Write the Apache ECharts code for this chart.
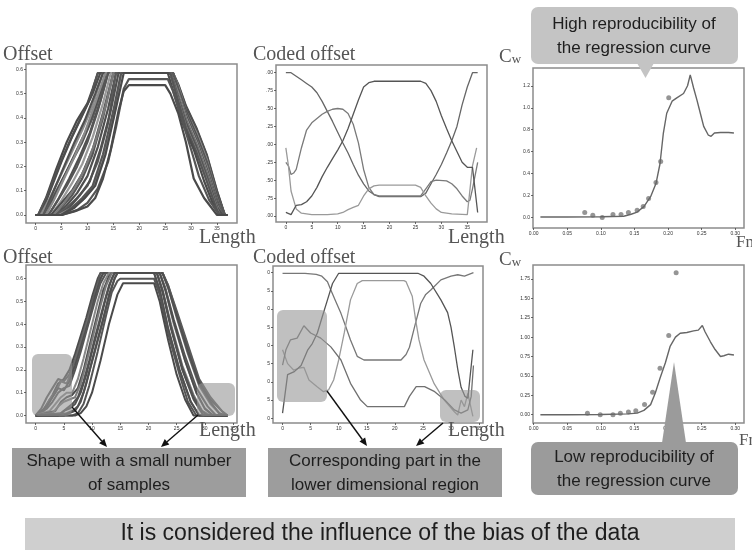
<!DOCTYPE html>
<html>
<head>
<meta charset="utf-8">
<script src="https://cdn.jsdelivr.net/npm/echarts@6/dist/echarts.min.js"></script>
<style>
  html, body { margin: 0; padding: 0; background: #fff; }
  #main { width: 752px; height: 552px; }
</style>
</head>
<body>
<div id="main"></div>
<script>
// ---- data ----

// top-left: offset shapes (all samples)
const offsetTop = [
  [[0,0],[0.5,0],[2,0.07],[4,0.19],[6,0.3],[8,0.39],[10,0.46],[11,0.52],[12,0.585],[26.5,0.585],[27.5,0.54],[29,0.45],[31,0.36],[33,0.25],[35,0.1],[36.5,0],[37,0]],
  [[0,0],[0.5,0],[2.5,0.09],[4.5,0.2],[6.5,0.3],[8.5,0.39],[10.5,0.48],[12,0.585],[26.5,0.585],[27.5,0.535],[29,0.445],[31,0.355],[33,0.245],[35,0.095],[36.5,0],[37,0]],
  [[0,0],[1,0],[3,0.11],[5,0.22],[7,0.32],[9,0.41],[11,0.5],[12.5,0.585],[26.5,0.585],[27.5,0.53],[29,0.44],[31,0.35],[33,0.24],[35,0.09],[36.5,0],[37,0]],
  [[0,0],[1,0],[3,0.08],[5,0.17],[7,0.26],[9,0.35],[11,0.45],[13,0.585],[26.5,0.585],[27.5,0.53],[29,0.43],[31,0.34],[33,0.23],[35,0.08],[36.5,0],[37,0]],
  [[0,0],[1.5,0],[3.5,0.1],[5.5,0.2],[7.5,0.3],[9.5,0.39],[11.5,0.5],[13,0.585],[26.5,0.585],[27.5,0.52],[29,0.43],[31,0.33],[33,0.22],[35,0.08],[36.5,0],[37,0]],
  [[0,0],[1.5,0],[3,0.06],[5,0.14],[7,0.22],[9,0.3],[11,0.4],[13,0.53],[13.5,0.585],[26.5,0.585],[27.5,0.52],[29,0.425],[31,0.325],[33,0.215],[35,0.075],[36.5,0],[37,0]],
  [[0,0],[2,0],[4,0.09],[6,0.18],[8,0.27],[10,0.36],[12,0.48],[13.5,0.585],[26,0.585],[27.5,0.51],[29,0.42],[31,0.32],[33,0.2],[35,0.07],[36,0],[37,0]],
  [[0,0],[2,0],[3.5,0.06],[5.5,0.15],[7.5,0.24],[9.5,0.34],[11.5,0.46],[13.5,0.585],[26,0.585],[27.5,0.505],[29,0.415],[31,0.315],[33,0.2],[35,0.065],[36,0],[37,0]],
  [[0,0],[2.5,0],[4.5,0.07],[6.5,0.15],[8.5,0.24],[10.5,0.34],[12.5,0.47],[14,0.585],[26,0.585],[27.5,0.5],[29,0.41],[31,0.31],[33,0.19],[35,0.06],[36,0],[37,0]],
  [[0,0],[2.5,0],[4,0.05],[6,0.12],[8,0.2],[10,0.3],[12,0.43],[14,0.585],[26,0.585],[27.5,0.5],[29,0.405],[31,0.305],[33,0.185],[35,0.055],[36,0],[37,0]],
  [[0,0],[3,0],[5,0.06],[7,0.13],[9,0.21],[11,0.32],[13,0.46],[14.5,0.585],[26,0.585],[27.5,0.5],[29,0.4],[31,0.3],[33,0.18],[35,0.05],[36,0],[37,0]],
  [[0,0],[3,0],[5,0.05],[7,0.1],[9,0.17],[11,0.27],[13,0.42],[15,0.585],[26,0.585],[27.5,0.49],[29,0.39],[31,0.29],[33,0.17],[35,0.05],[36,0],[37,0]],
  [[0,0],[3.5,0],[5,0.03],[7,0.08],[9,0.15],[11,0.25],[13,0.4],[15,0.585],[26,0.585],[27.5,0.49],[29,0.39],[31,0.29],[33,0.17],[35,0.045],[36,0],[37,0]],
  [[0,0],[3.5,0],[5.5,0.05],[7.5,0.11],[9.5,0.19],[11.5,0.3],[13.5,0.45],[15,0.585],[26,0.585],[27.5,0.49],[29,0.39],[31,0.29],[33,0.17],[35,0.04],[36,0],[37,0]],
  [[0,0],[4,0],[6,0.04],[8,0.09],[10,0.16],[12,0.28],[14,0.44],[15.5,0.585],[26,0.585],[27.5,0.48],[29,0.38],[31,0.28],[33,0.16],[35,0.03],[36,0],[37,0]],
  [[0,0],[4,0],[6,0.03],[8,0.07],[10,0.12],[12,0.22],[14,0.38],[15.5,0.585],[26,0.585],[27.5,0.48],[29,0.375],[31,0.275],[33,0.155],[35,0.03],[36,0],[37,0]],
  [[0,0],[4.5,0],[6.5,0.03],[8.5,0.08],[10.5,0.14],[12.5,0.27],[14.5,0.43],[16,0.585],[26,0.585],[27.5,0.48],[29,0.37],[31,0.27],[33,0.15],[35,0.03],[36,0],[37,0]],
  [[0,0],[4.5,0],[7,0.03],[9,0.06],[11,0.11],[13,0.22],[15,0.4],[16.5,0.585],[26,0.585],[27.5,0.475],[29,0.365],[31,0.265],[33,0.145],[35,0.025],[35.5,0],[37,0]],
  [[0,0],[5,0],[7,0.03],[9,0.07],[11,0.12],[13,0.25],[15,0.43],[16.5,0.585],[26,0.585],[27.5,0.47],[29,0.36],[31,0.26],[33,0.14],[35,0.02],[35.5,0],[37,0]],
  [[0,0],[5,0],[7.5,0.03],[9.5,0.07],[11.5,0.12],[13.5,0.25],[15.5,0.44],[17,0.585],[25.5,0.585],[27,0.48],[28.5,0.37],[30.5,0.27],[32.5,0.14],[34.5,0.03],[35.5,0],[37,0]],
  [[0,0],[5,0],[8,0.02],[10,0.05],[12,0.11],[14,0.22],[15.5,0.36],[17,0.52],[18,0.56],[25.5,0.56],[26.5,0.51],[28,0.41],[30,0.27],[31.5,0.16],[33.5,0.06],[35.5,0],[37,0]],
  [[0,0],[5,0],[7.5,0.015],[10,0.035],[11.5,0.07],[13,0.15],[14.5,0.27],[16,0.43],[17,0.51],[18,0.535],[25,0.535],[26,0.5],[27.5,0.42],[29,0.3],[30.5,0.15],[32.5,0.07],[35,0],[37,0]]
];

// top-middle: coded offset (4 components)
const codedTop = [
  [[0,1],[1,1],[2,0.95],[3,0.9],[4,0.85],[5,0.8],[6,0.72],[7,0.6],[8,0.46],[9,0.32],[10,0.17],[11,0.02],[12,-0.12],[13,-0.28],[14,-0.43],[15,-0.55],[16,-0.65],[17,-0.7],[18,-0.73],[26,-0.73],[27,-0.68],[28,-0.55],[29,-0.42],[30,-0.28],[31,-0.12],[32,0.05],[33,0.25],[34,0.55],[35,0.8],[36,1],[37,1]],
  [[0,-0.25],[0.5,-0.3],[1,-0.42],[1.5,-0.4],[2,-0.35],[3,-0.05],[4,0.2],[5,0.3],[6,0.36],[7,0.42],[8,0.46],[9,0.49],[10,0.5],[11,0.49],[12,0.43],[13,0.28],[14,0.02],[15,-0.35],[16,-0.6],[17,-0.7],[18,-0.72],[26,-0.72],[27,-0.62],[28,-0.52],[29,-0.5],[31,-0.51],[32,-0.55],[33,-0.62],[34,-0.72],[35,-0.8],[35.5,-0.78],[36,-0.62],[37,-0.25]],
  [[0,-0.05],[0.5,-0.3],[1,-0.65],[2,-0.9],[3,-0.96],[5,-0.98],[8,-0.98],[10,-0.97],[11,-0.95],[12,-0.91],[13,-0.88],[14,-0.85],[15,-0.72],[16,-0.62],[17,-0.58],[18,-0.57],[25,-0.57],[26,-0.6],[27,-0.72],[28,-0.82],[29,-0.9],[30,-0.95],[32,-0.97],[35,-0.98],[36,-0.3],[36.8,-0.05]],
  [[0,-0.95],[1,-0.98],[2,-0.85],[3,-0.84],[4,-0.8],[5,-0.72],[6,-0.6],[7,-0.45],[8,-0.32],[9,-0.2],[10,-0.08],[11,0.05],[12,0.22],[13,0.42],[14,0.62],[15,0.8],[16,0.86],[17,0.88],[26,0.88],[27,0.85],[28,0.75],[29,0.6],[30,0.4],[31,0.22],[32,0.05],[33,-0.1],[34,-0.25],[35,-0.32],[36,-0.32],[37,-0.95]]
];

// top-right: measured Cw and regression curve
const fnTop = [0.076, 0.088, 0.102, 0.118, 0.130, 0.141, 0.154, 0.163, 0.171, 0.182, 0.189, 0.201];
const cwTop = [0.046, 0.02, 0.0, 0.027, 0.027, 0.046, 0.067, 0.10, 0.174, 0.32, 0.51, 1.09];
const fnCurveTop = [0.01, 0.05, 0.10, 0.134, 0.145, 0.154, 0.164, 0.174, 0.182, 0.188, 0.193, 0.198, 0.206, 0.213, 0.223, 0.229, 0.233, 0.238, 0.243, 0.248, 0.253, 0.26, 0.264, 0.269, 0.278, 0.29, 0.298];
const cwCurveTop = [0.005, 0.005, 0.008, 0.012, 0.03, 0.05, 0.1, 0.19, 0.31, 0.49, 0.77, 0.95, 1.06, 1.09, 1.13, 1.2, 1.30, 1.18, 1.07, 0.95, 0.83, 0.75, 0.74, 0.77, 0.775, 0.775, 0.77];

// bottom-left: offset shapes (biased samples)
const offsetBottom = [
  [[0,0],[1,0.01],[2,0.05],[3,0.09],[4,0.14],[5,0.16],[6,0.2],[7,0.27],[8,0.35],[9,0.43],[10,0.52],[11,0.6],[11.5,0.625],[22.5,0.625],[23.5,0.57],[25,0.45],[27,0.3],[29,0.15],[31,0.07],[33,0.02],[34,0]],
  [[0,0],[1,0.03],[2,0.08],[3,0.12],[4,0.16],[5,0.15],[6,0.18],[7,0.25],[8,0.33],[9,0.41],[10,0.5],[11,0.58],[11.5,0.625],[22.5,0.625],[23.5,0.57],[25,0.46],[27,0.31],[29,0.16],[31,0.08],[33,0.02],[34,0]],
  [[0,0],[1.5,0.02],[2.5,0.07],[3.5,0.1],[4.5,0.15],[5.5,0.14],[6.5,0.2],[7.5,0.28],[8.5,0.36],[10,0.48],[11,0.57],[12,0.625],[22.5,0.625],[23.5,0.56],[25,0.43],[27,0.27],[29,0.13],[31,0.05],[33,0],[34,0]],
  [[0,0],[1,0.02],[2,0.04],[3,0.08],[4,0.12],[5,0.11],[6,0.15],[7,0.22],[8,0.3],[9.5,0.42],[10.5,0.52],[11.5,0.6],[12,0.625],[22.5,0.625],[23.5,0.56],[25,0.44],[27,0.28],[29,0.14],[31,0.06],[32.5,0.01],[34,0]],
  [[0,0],[2,0.03],[3,0.06],[4,0.1],[5,0.12],[6,0.13],[7,0.2],[8,0.28],[9,0.37],[10.5,0.5],[11.5,0.58],[12.5,0.625],[22,0.625],[23,0.56],[24.5,0.42],[26.5,0.26],[28.5,0.12],[30.5,0.04],[32,0],[34,0]],
  [[0,0],[2.5,0.02],[3.5,0.05],[4.5,0.08],[5.5,0.1],[6.5,0.1],[7.5,0.16],[8.5,0.25],[9.5,0.35],[11,0.5],[12,0.58],[13,0.625],[22,0.625],[23,0.55],[24.5,0.4],[26.5,0.24],[28.5,0.1],[30,0.03],[31.5,0],[34,0]],
  [[0,0],[3.5,0.02],[4.5,0.06],[5.5,0.08],[6.5,0.09],[7.5,0.12],[8.5,0.2],[9.5,0.3],[11,0.45],[12,0.55],[13,0.61],[13.5,0.625],[22,0.625],[23,0.55],[24.5,0.41],[26.5,0.24],[28.5,0.1],[30,0.03],[31.5,0],[34,0]],
  [[0,0],[3,0.01],[4,0.04],[5,0.06],[6,0.07],[7,0.08],[8,0.14],[9,0.23],[10,0.33],[11.5,0.48],[12.5,0.57],[13.5,0.625],[21.5,0.625],[22.5,0.55],[24,0.4],[26,0.22],[28,0.09],[29.5,0.02],[31,0],[34,0]],
  [[0,0],[4.5,0.01],[5.5,0.03],[6.5,0.05],[7.5,0.08],[8.5,0.15],[9.5,0.24],[10.5,0.34],[12,0.48],[13,0.57],[14,0.625],[21.5,0.625],[22.5,0.55],[24,0.39],[26,0.21],[28,0.08],[29.5,0.02],[30.5,0],[34,0]],
  [[0,0],[4,0],[5,0.02],[6,0.03],[7,0.05],[8,0.1],[9,0.18],[10,0.28],[11.5,0.42],[12.5,0.52],[13.5,0.6],[14,0.625],[21.5,0.625],[22.5,0.54],[24,0.38],[26,0.2],[28,0.07],[29.5,0.01],[30,0],[34,0]],
  [[0,0],[5.5,0.01],[6.5,0.02],[7.5,0.04],[8.5,0.1],[9.5,0.19],[10.5,0.28],[12,0.42],[13,0.53],[14,0.6],[14.5,0.625],[21,0.625],[22,0.55],[23.5,0.38],[25.5,0.2],[27.5,0.06],[29,0],[34,0]],
  [[0,0],[5,0],[6,0.01],[7,0.02],[8,0.06],[9,0.14],[10,0.24],[11.5,0.38],[13,0.52],[14,0.6],[14.5,0.625],[21,0.625],[22,0.55],[23.5,0.38],[25.5,0.2],[27.5,0.06],[29,0],[34,0]],
  [[0,0],[6.5,0],[7.5,0.01],[8.5,0.05],[9.5,0.13],[11,0.28],[12.5,0.44],[13.5,0.54],[14.5,0.59],[15,0.6],[21,0.6],[22,0.53],[23.5,0.36],[25.5,0.18],[27,0.06],[28.5,0],[34,0]],
  [[0,0],[7,0],[8,0.01],[9,0.04],[10,0.1],[11.5,0.24],[13,0.4],[14.5,0.53],[15.5,0.58],[21,0.58],[22,0.5],[23.5,0.33],[25,0.18],[26.5,0.07],[28,0],[34,0]]
];

// bottom-middle: coded offset (4 components)
const codedBottom = [
  [[0,0.99],[2,0.99],[4,0.99],[6,0.975],[7,0.95],[8,0.875],[8.6,0.76],[9.5,0.6],[10.4,0.44],[11.3,0.25],[12.1,0.075],[13.3,-0.15],[14.5,-0.2],[21.1,-0.2],[22,-0.125],[22.6,-0.025],[23.5,0.25],[24.6,0.575],[25.5,0.7],[26.4,0.76],[28.2,0.9],[30,0.95],[31.2,0.97],[32.4,0.95],[34,1.0]],
  [[0,-0.06],[0.9,-0.25],[2,-0.34],[3,-0.31],[3.8,-0.3],[4.7,-0.475],[6.1,-0.565],[7.3,-0.635],[8.2,-0.61],[9.1,-0.475],[10,-0.2],[11,0.175],[12.1,0.625],[13.3,0.85],[14.2,0.89],[21.6,0.89],[22,0.875],[23.1,0.675],[23.7,0.35],[24.3,0.075],[25.2,-0.2],[27,-0.525],[28.8,-0.75],[30.6,-0.91],[31.2,-0.955],[31.8,-0.75],[32.4,-0.84],[33,-0.66],[33.9,-0.975]],
  [[0,-0.93],[0.9,-0.4],[2.1,-0.36],[3.3,-0.275],[4.5,-0.06],[5.3,0.025],[6.2,0.17],[7.1,0.4],[8,0.625],[8.9,0.85],[10,0.99],[24.1,0.99],[25.2,0.95],[26.4,0.85],[28.2,0.625],[29.4,0.45],[30,0.25],[30.6,-0.025],[31.2,-0.325],[31.8,-0.575],[32.5,-0.7],[33,-0.725],[33.9,-0.06]],
  [[0,-0.27],[0.6,-0.06],[1.4,0.075],[2.6,0.1],[3.8,0.27],[5,0.17],[6.8,0.1],[8.6,-0.02],[10.4,-0.2],[12.1,-0.52],[13.9,-0.75],[15.1,-0.84],[21.7,-0.84],[22.6,-0.7],[23.8,-0.565],[25.3,-0.565],[27.1,-0.635],[28.9,-0.75],[30.6,-0.885],[31.8,-0.93],[33,-0.885],[33.6,-0.7],[34,-0.275]]
];

// bottom-right: measured Cw and regression curve
const fnBottom = [0.080, 0.099, 0.118, 0.129, 0.141, 0.152, 0.165, 0.177, 0.188, 0.201, 0.212];
const cwBottom = [0.02, 0.0, 0.0, 0.02, 0.034, 0.05, 0.13, 0.29, 0.60, 1.02, 1.83];
const fnCurveBottom = [0.01, 0.05, 0.10, 0.14, 0.154, 0.164, 0.174, 0.181, 0.188, 0.196, 0.203, 0.211, 0.218, 0.228, 0.238, 0.245, 0.251, 0.255, 0.263, 0.270, 0.278, 0.283, 0.29, 0.298];
const cwCurveBottom = [0.0, 0.0, 0.003, 0.01, 0.02, 0.056, 0.13, 0.28, 0.47, 0.67, 0.88, 1.0, 1.05, 1.06, 1.08, 1.09, 1.15, 1.07, 0.94, 0.84, 0.75, 0.76, 0.78, 0.77];

// tick values
const lengthTicks = [0, 5, 10, 15, 20, 25, 30, 35];
const offsetTicks = [0, 0.1, 0.2, 0.3, 0.4, 0.5, 0.6];
const codedTicks = [-1, -0.75, -0.5, -0.25, 0, 0.25, 0.5, 0.75, 1];
const fnTicks = [0, 0.05, 0.1, 0.15, 0.2, 0.25, 0.3];
const cwTicksTop = [0, 0.2, 0.4, 0.6, 0.8, 1.0, 1.2];
const cwTicksBottom = [0, 0.25, 0.5, 0.75, 1.0, 1.25, 1.5, 1.75];

// ---- styles ----
const bandColors = ['#484848', '#555', '#4d4d4d', '#8c8c8c', '#4f4f4f', '#595959', '#4a4a4a', '#8a8a8a', '#505050', '#555', '#999', '#4c4c4c', '#565656', '#7a7a7a', '#4f4f4f', '#5a5a5a', '#505050', '#888', '#555', '#4a4a4a', '#555', '#4a4a4a'];
const bandColorsBottom = ['#4a4a4a', '#5a5a5a', '#6a6a6a', '#505050', '#555', '#888', '#4d4d4d', '#7a7a7a', '#555', '#505050', '#5a5a5a', '#4f4f4f', '#555', '#4a4a4a'];
const codedTopColors = ['#666', '#7a7a7a', '#9a9a9a', '#555'];
const codedBottomColors = ['#777', '#9a9a9a', '#555', '#707070'];

const frameColor = '#8c8c8c';
const serif = 'Liberation Serif';
const sans = 'Liberation Sans';

const grids = [
  { left: 26, top: 64, width: 211, height: 159 },
  { left: 276, top: 65, width: 211, height: 157 },
  { left: 533, top: 68, width: 211, height: 160 },
  { left: 26, top: 265, width: 211, height: 158 },
  { left: 273, top: 266, width: 210, height: 157 },
  { left: 533, top: 265, width: 211, height: 158 }
].map(g => Object.assign(g, { show: true, borderColor: frameColor, borderWidth: 1.5 }));

function axis(gridIndex, min, max, ticks, fmt) {
  return {
    type: 'value',
    gridIndex: gridIndex,
    min: min,
    max: max,
    splitLine: { show: false },
    axisLine: { show: false, onZero: false },
    axisTick: { show: true, length: 2, lineStyle: { color: '#444', width: 0.8 }, customValues: ticks },
    axisLabel: {
      fontSize: 5, color: '#333', margin: 3, hideOverlap: false,
      customValues: ticks, formatter: fmt
    }
  };
}

const f1 = v => v.toFixed(1);
const f2 = v => v.toFixed(2);
const f0 = v => String(v);
const cutTop = v => { const s = v.toFixed(2); return s.slice(s.indexOf('.')); };
const cutBottom = v => v.toFixed(2).slice(-1);

const xAxes = [
  axis(0, -1.85, 38.85, lengthTicks, f0),
  axis(1, -1.9, 38.8, lengthTicks, f0),
  axis(2, -0.001, 0.313, fnTicks, f2),
  axis(3, -1.7, 35.7, lengthTicks, f0),
  axis(4, -1.7, 35.7, lengthTicks, f0),
  axis(5, -0.001, 0.313, fnTicks, f2)
];
const yAxes = [
  axis(0, -0.033, 0.622, offsetTicks, f1),
  axis(1, -1.083, 1.107, codedTicks, cutTop),
  axis(2, -0.095, 1.362, cwTicksTop, f1),
  axis(3, -0.033, 0.66, offsetTicks, f1),
  axis(4, -1.065, 1.09, codedTicks, cutBottom),
  axis(5, -0.107, 1.93, cwTicksBottom, f2)
];

function lineSeries(data, idx, color, width) {
  return {
    type: 'line', xAxisIndex: idx, yAxisIndex: idx, data: data,
    showSymbol: false, silent: true,
    lineStyle: { color: color, width: width }
  };
}

const series = [];
offsetTop.forEach((c, i) => series.push(lineSeries(c, 0, bandColors[i % bandColors.length], 2.2)));
codedTop.forEach((c, i) => series.push(lineSeries(c, 1, codedTopColors[i], 1.3)));
series.push(lineSeries(fnCurveTop.map((x, i) => [x, cwCurveTop[i]]), 2, '#666', 1.4));
series.push({
  type: 'scatter', xAxisIndex: 2, yAxisIndex: 2, symbolSize: 5, silent: true,
  data: fnTop.map((x, i) => [x, cwTop[i]]), itemStyle: { color: '#7a7a7a' }
});
offsetBottom.forEach((c, i) => series.push(lineSeries(c, 3, bandColorsBottom[i % bandColorsBottom.length], 2.0)));
codedBottom.forEach((c, i) => series.push(lineSeries(c, 4, codedBottomColors[i], 1.3)));
series.push(lineSeries(fnCurveBottom.map((x, i) => [x, cwCurveBottom[i]]), 5, '#666', 1.4));
series.push({
  type: 'scatter', xAxisIndex: 5, yAxisIndex: 5, symbolSize: 5, silent: true,
  data: fnBottom.map((x, i) => [x, cwBottom[i]]), itemStyle: { color: '#7a7a7a' }
});

// ---- annotations ----
function arrow(x1, y1, x2, y2) {
  const a = Math.atan2(y2 - y1, x2 - x1), L = 8, W = 3.5;
  const bx = x2 - L * Math.cos(a), by = y2 - L * Math.sin(a);
  return [
    { type: 'line', z: 110, shape: { x1: x1, y1: y1, x2: bx, y2: by }, style: { stroke: '#111', lineWidth: 1.4 } },
    { type: 'polygon', z: 110, shape: { points: [[x2, y2], [bx + W * Math.sin(a), by - W * Math.cos(a)], [bx - W * Math.sin(a), by + W * Math.cos(a)]] }, style: { fill: '#111' } }
  ];
}
function label(text, x, y, size) {
  return { type: 'text', z: 120, x: x, y: y,
    style: { text: text, font: size + 'px "' + serif + '"', fill: '#555' } };
}
function box(x, y, w, h, fill, r) {
  return { type: 'rect', z: 100, shape: { x: x, y: y, width: w, height: h, r: r || 0 }, style: { fill: fill } };
}
function boxText(text, cx, cy, size) {
  return { type: 'text', z: 130, x: cx, y: cy,
    style: { text: text, font: size + 'px "' + sans + '"', fill: '#1e1e1e', align: 'center', verticalAlign: 'middle', lineHeight: size + 7 } };
}
function cw(x, y) {
  return { type: 'text', z: 120, x: x, y: y,
    style: { text: '{c|C}{w|w}', rich: { c: { fontFamily: serif, fontSize: 19, fill: '#555' }, w: { fontFamily: serif, fontSize: 13, fill: '#555', padding: [5, 0, 0, 0] } } } };
}

const shade = 'rgba(150,150,150,0.6)';
const graphic = [
  label('Offset', 3, 45, 20),
  label('Coded offset', 253, 45, 20),
  label('Length', 199, 228, 20),
  label('Length', 448, 228, 20),
  label('Offset', 3, 248, 20),
  label('Coded offset', 253, 248, 20),
  label('Length', 199, 421, 20),
  label('Length', 448, 421, 20),
  cw(499, 48), cw(499, 251),
  label('Fn', 736, 234, 17), label('Fn', 739, 432, 17),
  // shaded regions
  box(32, 354, 40, 62, shade, 6),
  box(197, 383, 38, 33, shade, 6),
  box(277, 310, 50, 92, shade, 6),
  box(440, 390, 40, 32, shade, 6),
  // callouts
  box(531, 7, 207, 57, '#c4c4c4', 7),
  { type: 'polygon', z: 100, shape: { points: [[637, 63], [654, 63], [645.5, 78]] }, style: { fill: '#c4c4c4' } },
  boxText('High reproducibility of\nthe regression curve', 634, 36, 17),
  box(531, 442, 207, 53, '#9b9b9b', 7),
  { type: 'polygon', z: 100, shape: { points: [[662, 443], [686, 443], [674, 362]] }, style: { fill: '#9b9b9b' } },
  boxText('Low reproducibility of\nthe regression curve', 634, 469, 17),
  box(12, 448, 234, 49, '#9d9d9d'),
  boxText('Shape with a small number\nof samples', 129, 473, 17),
  box(268, 448, 234, 49, '#9d9d9d'),
  boxText('Corresponding part in the\nlower dimensional region', 385, 473, 17),
  box(25, 518, 710, 32, '#cfcfcf'),
  boxText('It is considered the influence of the bias of the data', 380, 534, 23)
].concat(arrow(72, 407, 107, 447), arrow(198, 415, 161, 447),
         arrow(327, 391, 367, 446), arrow(443, 423, 416, 446));

const chart = echarts.init(document.getElementById('main'), null, { renderer: 'canvas' });
chart.setOption({
  animation: false,
  backgroundColor: '#fff',
  grid: grids,
  xAxis: xAxes,
  yAxis: yAxes,
  series: series,
  graphic: graphic
});
</script>
</body>
</html>
